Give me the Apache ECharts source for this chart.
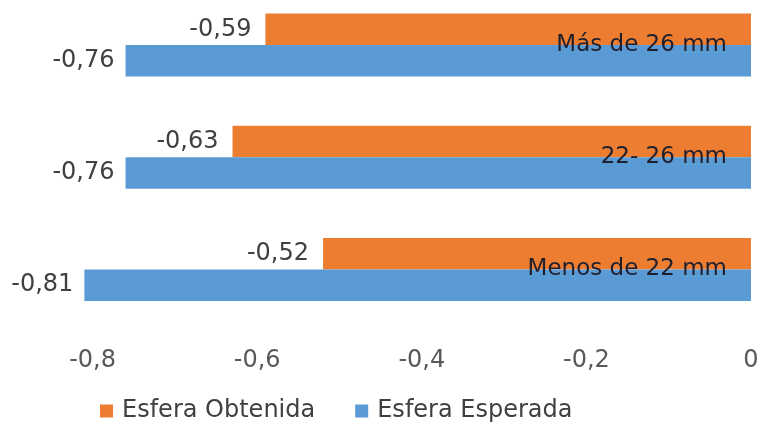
<!DOCTYPE html>
<html>
<head>
<meta charset="utf-8">
<script src="https://cdn.jsdelivr.net/npm/echarts@6/dist/echarts.min.js"></script>
<style>
html,body{margin:0;padding:0;background:#fff;overflow:hidden;width:762px;height:423px;position:relative;}
#chart{position:absolute;left:-75px;top:-11px;width:837px;height:434px;}
</style>
</head>
<body>
<div id="chart"></div>
<script>
var categories = ["Más de 26 mm", "22- 26 mm", "Menos de 22 mm"];
var seriesNames = ["Esfera Obtenida", "Esfera Esperada"];
var obtenida = [-0.59, -0.63, -0.52];
var esperada = [-0.76, -0.76, -0.81];
var xTicks = [-1, -0.8, -0.6, -0.4, -0.2, 0];

var FONT = "'DejaVu Sans', Verdana, sans-serif";
function fmt(v){ return String(v).replace('.', ','); }

var chart = echarts.init(document.getElementById('chart'), null, {renderer:'canvas'});
chart.setOption({
  animation: false,
  backgroundColor: '#ffffff',
  textStyle: { fontFamily: FONT },
  grid: { left: 0, right: 11, top: 0, bottom: 97.5, containLabel: false },
  xAxis: {
    type: 'value',
    min: xTicks[0],
    max: xTicks[xTicks.length - 1],
    interval: 0.2,
    axisLine: { show: false },
    axisTick: { show: false },
    splitLine: { show: false },
    axisLabel: {
      margin: 23,
      fontSize: 24,
      color: '#595959',
      fontFamily: FONT,
      formatter: function (v) { return v <= -0.99 ? '' : fmt(Math.round(v * 10) / 10); }
    }
  },
  yAxis: {
    type: 'category',
    data: categories,
    inverse: true,
    position: 'right',
    z: 10,
    axisLine: { show: false },
    axisTick: { show: false },
    splitLine: { show: false },
    axisLabel: {
      inside: true,
      margin: 24,
      fontSize: 23,
      color: '#1f1f2e',
      fontFamily: FONT
    }
  },
  legend: {
    data: seriesNames,
    left: 170,
    top: 405,
    icon: 'rect',
    itemWidth: 13,
    itemHeight: 13,
    itemGap: 40,
    textStyle: { fontSize: 24, color: '#404040', fontFamily: FONT, padding: [0, 0, 0, 4] }
  },
  series: [
    {
      name: seriesNames[0],
      type: 'bar',
      data: obtenida,
      barWidth: 31.5,
      barGap: '0%',
      itemStyle: { color: '#ED7D31' },
      label: {
        show: true, position: 'left', distance: 14,
        fontSize: 24, color: '#404040', fontFamily: FONT,
        formatter: function (p) { return fmt(p.value); }
      }
    },
    {
      name: seriesNames[1],
      type: 'bar',
      data: esperada,
      barWidth: 31.5,
      barGap: '0%',
      itemStyle: { color: '#5B9BD5' },
      label: {
        show: true, position: 'left', distance: 11,
        fontSize: 24, color: '#404040', fontFamily: FONT,
        formatter: function (p) { return fmt(p.value); }
      }
    }
  ]
});
</script>
</body>
</html>
